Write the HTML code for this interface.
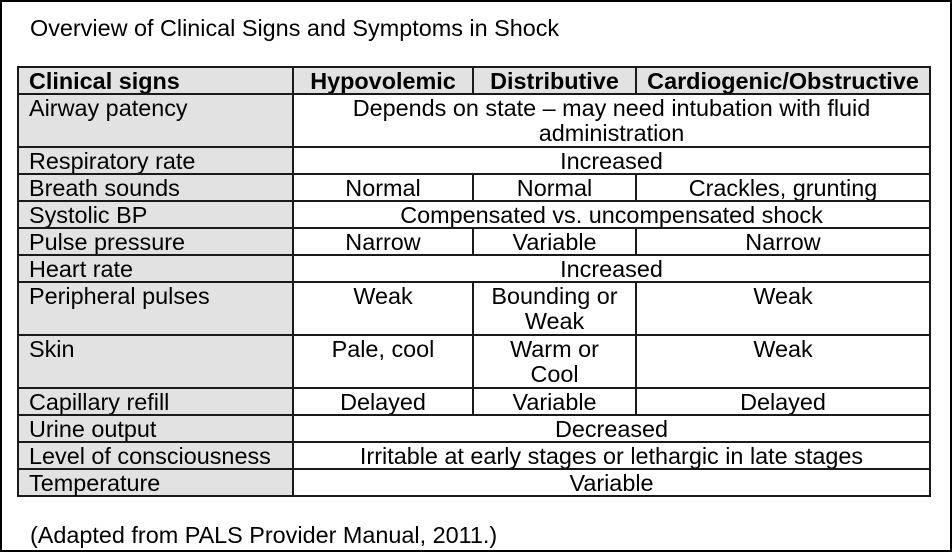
<!DOCTYPE html>
<html><head><meta charset="utf-8"><style>
html,body{margin:0;padding:0;background:#fff}
#f{position:relative;width:952px;height:552px;box-sizing:border-box;border:2px solid #000;overflow:hidden;font-family:"Liberation Sans",Arial,sans-serif;color:#000}
#in{position:absolute;left:-2px;top:-2px;width:952px;height:552px}
.t{position:absolute;font-size:23.4px;white-space:nowrap}
.c{position:absolute;box-sizing:border-box;border:2px solid #1a1a1a;font-size:23.4px;line-height:25px;padding-top:1px;text-align:center;white-space:nowrap}
.g{background:#e2e2e2}
.l{text-align:left;padding-left:10px}
.b{font-weight:bold}
</style></head><body><div id="f"><div id="in">
<div class="t" style="left:30px;top:15px">Overview of Clinical Signs and Symptoms in Shock</div>
<div class="t" style="left:30px;top:522px">(Adapted from PALS Provider Manual, 2011.)</div>
<div id="tb"></div>
</div></div>
<script>
var X=[18,293,473,636,930];
var rows=[
[67,94,"Clinical signs",["Hypovolemic","Distributive","Cardiogenic/Obstructive"],1],
[94,147,"Airway patency",["Depends on state – may need intubation with fluid<br>administration"]],
[147,174,"Respiratory rate",["Increased"]],
[174,201,"Breath sounds",["Normal","Normal","Crackles, grunting"]],
[201,228,"Systolic BP",["Compensated vs. uncompensated shock"]],
[228,255,"Pulse pressure",["Narrow","Variable","Narrow"]],
[255,282,"Heart rate",["Increased"]],
[282,335,"Peripheral pulses",["Weak","Bounding or<br>Weak","Weak"]],
[335,388,"Skin",["Pale, cool","Warm or<br>Cool","Weak"]],
[388,415,"Capillary refill",["Delayed","Variable","Delayed"]],
[415,442,"Urine output",["Decreased"]],
[442,469,"Level of consciousness",["Irritable at early stages or lethargic in late stages"]],
[469,496,"Temperature",["Variable"]]];
var h="";
function cell(x1,x2,y1,y2,cls,txt){h+='<div class="c '+cls+'" style="left:'+(x1-1)+'px;top:'+(y1-1)+'px;width:'+(x2-x1+2)+'px;height:'+(y2-y1+2)+'px">'+txt+'</div>';}
rows.forEach(function(r){
 var hd=r[4];
 cell(X[0],X[1],r[0],r[1],"g l"+(hd?" b":""),r[2]);
 if(r[3].length==1) cell(X[1],X[4],r[0],r[1],hd?"g b":"",r[3][0]);
 else for(var i=0;i<3;i++) cell(X[i+1],X[i+2],r[0],r[1],hd?"g b":"",r[3][i]);
});
document.getElementById("tb").innerHTML=h;
</script>
</body></html>
